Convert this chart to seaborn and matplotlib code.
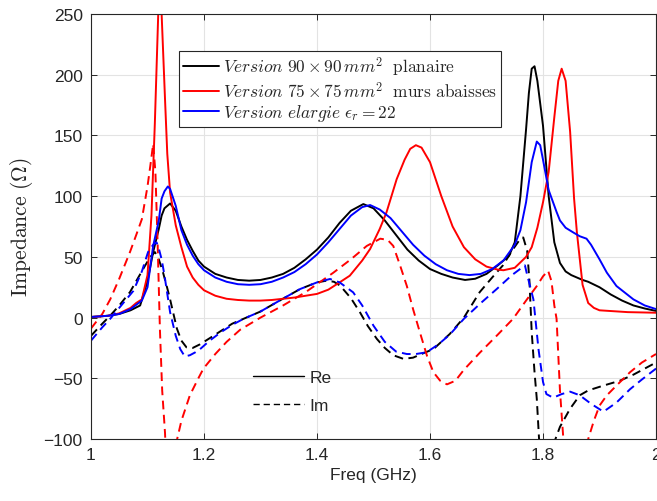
import numpy as np
import pandas as pd
import matplotlib
matplotlib.use("Agg")
import matplotlib.pyplot as plt
from matplotlib.lines import Line2D
import seaborn as sns

# ── Data ──────────────────────────────────────────────────
# Version 90x90 planaire
f_black_re = [1.00, 1.03, 1.05, 1.07, 1.087, 1.10, 1.11, 1.12, 1.125, 1.13, 1.14, 1.15, 1.16,
              1.17, 1.18, 1.19, 1.20, 1.22, 1.24, 1.26, 1.28, 1.30, 1.32, 1.34, 1.36, 1.38,
              1.40, 1.42, 1.44, 1.46, 1.482, 1.50, 1.52, 1.54, 1.56, 1.58, 1.60, 1.62, 1.64,
              1.662, 1.68, 1.70, 1.72, 1.74, 1.75, 1.76, 1.77, 1.775, 1.78, 1.785, 1.79, 1.80,
              1.81, 1.82, 1.83, 1.84, 1.85, 1.87, 1.88, 1.90, 1.92, 1.94, 1.96, 1.98, 2.00]
v_black_re = [0.5, 1.5, 3, 6, 10, 30, 54, 73, 84, 90, 94, 88, 75,
              64, 55, 47, 42, 36, 33, 31, 30.4, 31, 33, 36, 41, 48,
              56, 66, 78, 88, 93.5, 90, 80, 68, 56, 47, 40, 36, 33,
              31, 32, 36, 43, 51, 62, 100, 155, 185, 205, 207, 195, 158,
              100, 62, 45, 38, 35, 31, 29.5, 25, 19, 14, 10, 7.5, 5.5]
f_black_im = [1.00, 1.02, 1.034, 1.05, 1.069, 1.08, 1.096, 1.105, 1.113, 1.12, 1.127, 1.134,
              1.14, 1.152, 1.16, 1.169, 1.18, 1.193, 1.21, 1.23, 1.25, 1.27, 1.30, 1.33, 1.37,
              1.40, 1.417, 1.43, 1.441, 1.46, 1.476, 1.49, 1.506, 1.52, 1.535, 1.553, 1.57,
              1.59, 1.606, 1.635, 1.66, 1.688, 1.71, 1.729, 1.745, 1.76, 1.765, 1.772, 1.776,
              1.78, 1.785, 1.789, 1.793, 1.80, 1.81, 1.815, 1.822, 1.83, 1.848, 1.865, 1.88,
              1.907, 1.936, 1.96, 1.98, 2.00]
v_black_im = [-15, -5, 1.6, 10, 21, 30, 43, 50, 54, 48, 38, 26,
              15, -9, -19, -24.5, -25, -22, -17, -11, -5, -1, 5, 13, 23.5,
              29, 30.4, 29.5, 26.3, 16, 4.4, -7, -17.6, -25, -31, -34, -33,
              -29, -26, -13.5, 0, 21, 33, 43, 55, 65, 66, 55, 30,
              -12, -45, -67, -100, -150, -160, -130, -100, -90, -75, -64, -60,
              -56, -52, -47, -42, -37]

# Version 75x75 murs abaisses
f_red_re = [1.00, 1.03, 1.05, 1.07, 1.08, 1.09, 1.10, 1.107, 1.113, 1.119, 1.123, 1.125,
            1.131, 1.135, 1.14, 1.15, 1.16, 1.17, 1.18, 1.19, 1.20, 1.22, 1.24, 1.26, 1.28,
            1.30, 1.32, 1.34, 1.36, 1.38, 1.40, 1.42, 1.44, 1.458, 1.48, 1.494, 1.511, 1.523,
            1.541, 1.555, 1.565, 1.575, 1.585, 1.60, 1.62, 1.64, 1.66, 1.68, 1.70, 1.72, 1.73,
            1.75, 1.77, 1.78, 1.79, 1.80, 1.81, 1.82, 1.827, 1.833, 1.84, 1.848, 1.855, 1.86,
            1.87, 1.88, 1.89, 1.90, 1.95, 2.00]
v_red_re = [0.5, 1.5, 3.5, 8, 12, 15, 35, 84, 160, 250, 270, 250,
            180, 135, 103, 76, 58, 42, 33, 27, 22.5, 18, 15.5, 14.5, 14,
            14, 14.5, 15.5, 16.5, 18, 19.5, 23, 29, 34.5, 47, 56.5, 73, 86.7,
            114, 130, 139, 142, 140, 128, 100, 75, 58, 48, 42, 39.5, 39,
            41, 50, 58, 74, 95, 120, 165, 195, 205, 195, 153, 98, 70,
            27, 12, 8, 6, 4.5, 4]
f_red_im = [1.00, 1.02, 1.034, 1.05, 1.069, 1.08, 1.09, 1.10, 1.105, 1.11, 1.114, 1.118,
            1.122, 1.126, 1.131, 1.135, 1.14, 1.145, 1.15, 1.16, 1.175, 1.19, 1.199, 1.22,
            1.24, 1.264, 1.30, 1.34, 1.38, 1.429, 1.46, 1.488, 1.512, 1.525, 1.535, 1.547,
            1.559, 1.57, 1.582, 1.595, 1.606, 1.618, 1.63, 1.645, 1.66, 1.688, 1.72, 1.747,
            1.77, 1.789, 1.80, 1.809, 1.815, 1.82, 1.824, 1.83, 1.836, 1.845, 1.86, 1.875,
            1.88, 1.89, 1.90, 1.913, 1.93, 1.954, 1.975, 2.00]
v_red_im = [-9, 3, 15, 32, 54, 68, 81, 108, 125, 143, 120, 60,
            -10, -60, -95, -140, -160, -140, -105, -85, -64, -50, -42, -30,
            -20, -10, 0, 10, 21, 37, 48, 59, 65, 64, 59, 43,
            26, 7, -12, -32, -45, -52, -55, -52, -43, -29, -14, -1,
            14, 26, 34, 38.6, 30, 10, -1, -60, -100, -150, -160, -120,
            -100, -85, -72.5, -64, -56, -45, -37, -30]

# Version elargie eps_r = 22
f_blue_re = [1.00, 1.03, 1.05, 1.07, 1.09, 1.10, 1.11, 1.12, 1.125, 1.13, 1.136, 1.14, 1.15,
             1.16, 1.17, 1.18, 1.19, 1.20, 1.22, 1.24, 1.26, 1.28, 1.30, 1.32, 1.34, 1.36,
             1.38, 1.40, 1.42, 1.44, 1.46, 1.48, 1.494, 1.511, 1.53, 1.55, 1.57, 1.59, 1.61,
             1.63, 1.65, 1.67, 1.69, 1.71, 1.73, 1.75, 1.76, 1.77, 1.78, 1.789, 1.795, 1.80,
             1.81, 1.824, 1.83, 1.84, 1.854, 1.865, 1.877, 1.885, 1.90, 1.913, 1.93, 1.96,
             1.98, 2.00]
v_blue_re = [0.5, 1.5, 3, 7, 14, 25, 59, 80, 98, 104, 108, 106, 92,
             72, 60, 51, 44, 39, 33, 29.5, 27.5, 27, 27.5, 29.5, 33, 37.5,
             44, 52, 62, 73, 84, 91, 92.7, 89, 82, 71, 60, 51, 44,
             39, 36, 35, 36, 40, 47, 60, 72, 95, 128, 145, 142, 130,
             105, 87, 80, 74, 70, 67, 65, 60, 48, 37, 26, 15,
             10, 7]
f_blue_im = [1.00, 1.02, 1.034, 1.05, 1.075, 1.09, 1.101, 1.11, 1.116, 1.12, 1.125, 1.13,
             1.14, 1.15, 1.158, 1.166, 1.175, 1.185, 1.193, 1.21, 1.23, 1.25, 1.27, 1.30,
             1.33, 1.37, 1.40, 1.423, 1.44, 1.464, 1.48, 1.50, 1.52, 1.54, 1.559, 1.575,
             1.594, 1.615, 1.635, 1.66, 1.69, 1.718, 1.745, 1.768, 1.771, 1.783, 1.792, 1.80,
             1.806, 1.818, 1.833, 1.848, 1.865, 1.885, 1.907, 1.93, 1.954, 1.975, 2.00]
v_blue_im = [-19, -8, -1, 8, 22, 38, 54, 60, 62, 57, 48, 35,
             4.4, -15, -26, -32, -31, -28.5, -26, -19, -12, -6, -1, 5,
             13, 23.5, 29, 31.8, 29, 20.8, 10, -6.7, -20, -28, -30, -30,
             -28.6, -22, -14, -1, 12, 23.5, 35, 43, 37, 15, -26, -53,
             -63, -66, -63, -61, -64, -71, -77.5, -70, -59, -51, -42]

LABELS = [r"$Version\ 90\times 90\,mm^2\ \ \mathrm{planaire}$",
          r"$Version\ 75\times 75\,mm^2\ \ \mathrm{murs\ abaisses}$",
          r"$Version\ elargie\ \epsilon_r=22$"]
COLORS = ["black", "red", "blue"]

# ── Figure ──────────────────────────────────
sns.set_theme(style="whitegrid")
plt.rcParams["font.family"] = ["Liberation Sans", "DejaVu Sans"]
plt.rcParams["mathtext.fontset"] = "cm"

fig = plt.figure(figsize=(6.57, 5.02), dpi=100, facecolor="white")
ax = fig.add_axes([0.1385, 0.1235, 0.8600, 0.8465])
ax.set_facecolor("white")

series = [
    (f_black_re, v_black_re, f_black_im, v_black_im),
    (f_red_re, v_red_re, f_red_im, v_red_im),
    (f_blue_re, v_blue_re, f_blue_im, v_blue_im),
]
for (fr, vr, fi, vi), color in zip(series, COLORS):
    sns.lineplot(x=fr, y=vr, ax=ax, color=color, lw=1.4, estimator=None, sort=True)
    sns.lineplot(x=fi, y=vi, ax=ax, color=color, lw=1.4, estimator=None, sort=True,
                 linestyle=(0, (4.5, 2.8)))

ax.set_xlim(1, 2)
ax.set_ylim(-100, 250)
ax.set_xticks([1, 1.2, 1.4, 1.6, 1.8, 2])
ax.set_xticklabels(["1", "1.2", "1.4", "1.6", "1.8", "2"])
ax.set_yticks(np.arange(-100, 251, 50))

ax.grid(True, color="#e3e3e3", lw=0.8)
for sp in ax.spines.values():
    sp.set_visible(True)
    sp.set_color("#262626")
    sp.set_linewidth(0.8)
ax.tick_params(direction="in", length=4, width=0.7, colors="#262626", labelsize=12.5,
               top=True, right=True, bottom=True, left=True, pad=6)

ax.set_xlabel("Freq (GHz)", fontsize=12.5, color="#262626", labelpad=3)
ax.set_ylabel(r"$\mathrm{Impedance\ (\Omega)}$", fontsize=15.5, color="#262626", labelpad=6)

# legend for versions
h1 = [Line2D([], [], color=c, lw=1.4) for c in COLORS]
leg1 = ax.legend(h1, LABELS, loc="upper left", bbox_to_anchor=(0.156, 0.913),
                 fontsize=12.5, frameon=True, fancybox=False, framealpha=1,
                 edgecolor="#262626", handlelength=2.1, handletextpad=0.25,
                 borderpad=0.2, labelspacing=0.12, borderaxespad=0)
leg1.get_frame().set_linewidth(0.8)
ax.add_artist(leg1)

# legend for Re / Im
h2 = [Line2D([], [], color="black", lw=1.0),
      Line2D([], [], color="black", lw=1.0, linestyle=(0, (4.5, 2.8)))]
ax.legend(h2, ["Re", "Im"], loc="upper left", bbox_to_anchor=(0.275, 0.18),
          fontsize=12.5, frameon=False, handlelength=2.9, handletextpad=0.35,
          labelspacing=0.75, borderaxespad=0)

fig.savefig("out.png", dpi=100, facecolor="white")
